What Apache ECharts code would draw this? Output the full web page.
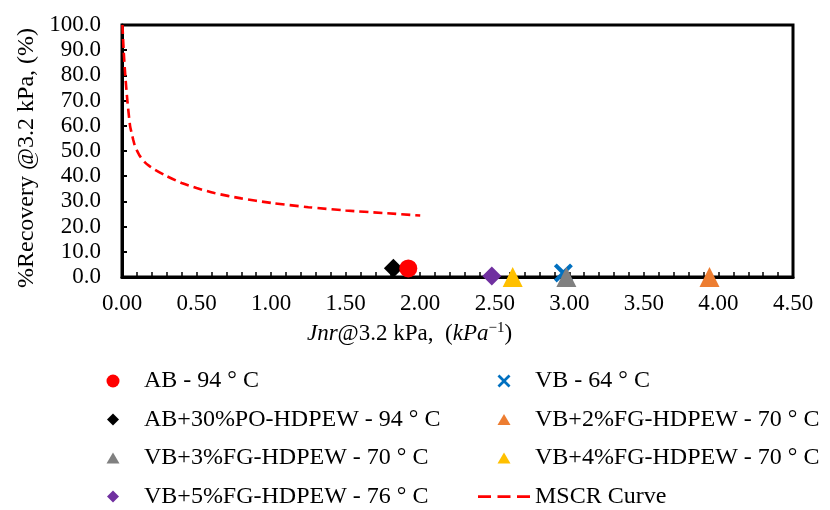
<!DOCTYPE html>
<html lang="en" style="height: 100%">
<head>
    <meta charset="utf-8">
    <title>MSCR</title>
    <script src="https://cdn.jsdelivr.net/npm/echarts@6.0.0/dist/echarts.min.js"></script>
    <style>
        body { margin: 0; background: #fff; }
    </style>
</head>
<body>
<div id="chart" style="width:830px; height:510px;"></div>

<script type="text/javascript">
    // 各试样的 Jnr / %Recovery 读数
    var sampleNames = [
        'AB - 94 ° C',
        'AB+30%PO-HDPEW - 94 ° C',
        'VB - 64 ° C',
        'VB+2%FG-HDPEW - 70 ° C',
        'VB+3%FG-HDPEW - 70 ° C',
        'VB+4%FG-HDPEW - 70 ° C',
        'VB+5%FG-HDPEW - 76 ° C'
    ];
    var jnrValues      = [1.92, 1.82, 2.96, 3.94, 2.98, 2.62, 2.48];
    var recoveryValues = [3.4, 3.5, 1.6, 0.0, 0.0, 0.0, 0.4];

    // MSCR 曲线
    var curveName = 'MSCR Curve';
    var curveJnr      = [0.003, 0.011, 0.022, 0.036, 0.054, 0.065, 0.075, 0.085, 0.098, 0.12, 0.154, 0.18, 0.22, 0.29, 0.4, 0.5, 0.62, 0.8, 1.0, 1.25, 1.5, 1.75, 2.0];
    var curveRecovery = [100.0, 90.0, 80.0, 70.0, 60.0, 57.0, 54.5, 52.3, 50.5, 48.0, 45.5, 44.2, 42.6, 40.3, 37.3, 35.3, 33.3, 31.2, 29.4, 27.7, 26.4, 25.4, 24.4];

    // 坐标轴刻度
    var xTicks = { min: 0, max: 4.5, interval: 0.5 };
    var yTicks = { min: 0, max: 100, interval: 10 };

    var crossPath = 'path://M0,3 L3,0 L10,7 L17,0 L20,3 L13,10 L20,17 L17,20 L10,13 L3,20 L0,17 L7,10 Z';
    // 图例图标, 都放在 52 x 13 的框里, 防止被拉伸
    var box = 'path://M0,0 L0,0 M52,13 L52,13 ';
    var legendIcons = {
        diamond: box + 'M26,0.5 L32,6.5 L26,12.5 L20,6.5 Z',
        triangle: box + 'M26,1 L32.5,12 L19.5,12 Z',
        dash: box + 'M0,5.3 L13,5.3 L13,7.9 L0,7.9 Z M19.5,5.3 L32.5,5.3 L32.5,7.9 L19.5,7.9 Z M39,5.3 L52,5.3 L52,7.9 L39,7.9 Z'
    };

    // 样式 (按 sampleNames 顺序)
    var markerStyle = [
        { symbol: 'circle',   size: 18, color: '#FF0000', icon: 'circle' },
        { symbol: 'diamond',  size: 19, color: '#000000', icon: legendIcons.diamond },
        { symbol: crossPath,  size: 19, color: '#0070C0', icon: crossPath },
        { symbol: 'triangle', size: 20, color: '#ED7D31', icon: legendIcons.triangle },
        { symbol: 'triangle', size: 20, color: '#808080', icon: legendIcons.triangle },
        { symbol: 'triangle', size: 20, color: '#FFC000', icon: legendIcons.triangle },
        { symbol: 'diamond',  size: 19, color: '#7030A0', icon: legendIcons.diamond }
    ];
    // 绘制顺序 (后画的在上面)
    var drawOrder = [1, 0, 6, 5, 2, 4, 3];

    var font = 'Liberation Serif';
    var myChart = echarts.init(document.getElementById('chart'));

    var series = drawOrder.map(function (i) {
        return {
            name: sampleNames[i],
            type: 'scatter',
            clip: false,
            symbol: markerStyle[i].symbol,
            symbolSize: markerStyle[i].size,
            itemStyle: { color: markerStyle[i].color, opacity: 1 },
            data: [[jnrValues[i], recoveryValues[i]]]
        };
    });
    series.push({
        name: curveName,
        type: 'line',
        smooth: 0.25,
        symbol: 'none',
        clip: false,
        z: 1,
        lineStyle: { color: '#FF0000', width: 2.6, type: [9, 5] },
        itemStyle: { color: '#FF0000' },
        data: curveJnr.map(function (x, k) { return [x, curveRecovery[k]]; })
    });

    function legendItem(i) {
        return { name: sampleNames[i], icon: markerStyle[i].icon };
    }

    var legendCommon = {
        orient: 'vertical',
        padding: 0,
        itemWidth: 52,
        itemHeight: 13,
        itemGap: 14.5,
        textStyle: { fontFamily: font, fontSize: 24, color: '#000', lineHeight: 24 }
    };

    myChart.setOption({
        animation: false,
        backgroundColor: '#fff',
        grid: {
            left: 122, right: 37, top: 25, bottom: 233,
            show: true, borderColor: '#000', borderWidth: 3
        },
        legend: [
            Object.assign({}, legendCommon, {
                left: 87, top: 369,
                data: [legendItem(0), legendItem(1), legendItem(4), legendItem(6)]
            }),
            Object.assign({}, legendCommon, {
                left: 478, top: 369,
                data: [legendItem(2), legendItem(3), legendItem(5),
                    { name: curveName, icon: legendIcons.dash, itemStyle: { color: '#FF0000' } }]
            })
        ],
        xAxis: {
            type: 'value',
            min: xTicks.min, max: xTicks.max, interval: xTicks.interval,
            name: '{i|Jnr}@3.2 kPa,  ({i|kPa}{sup|−1})',
            nameLocation: 'middle',
            nameGap: 44,
            nameTextStyle: {
                fontFamily: font, fontSize: 23, color: '#000', padding: [0, 96, 0, 0],
                rich: {
                    i: { fontFamily: font, fontSize: 23, fontStyle: 'italic', color: '#000' },
                    sup: { fontFamily: font, fontSize: 15, color: '#000', verticalAlign: 'top', padding: [0, 0, 10, 0] }
                }
            },
            axisLine: { onZero: false, lineStyle: { color: '#000', width: 3 } },
            axisTick: { show: true, inside: true, length: 5, lineStyle: { color: '#000', width: 1.5 } },
            minorTick: { show: true, splitNumber: 5, length: 5, lineStyle: { color: '#000', width: 1.5 } },
            splitLine: { show: false },
            axisLabel: {
                margin: 15, fontFamily: font, fontSize: 23, color: '#000',
                formatter: function (v) { return v.toFixed(2); }
            }
        },
        yAxis: {
            type: 'value',
            min: yTicks.min, max: yTicks.max, interval: yTicks.interval,
            name: '%Recovery @3.2 kPa, (%)',
            nameLocation: 'middle',
            nameGap: 80,
            nameTextStyle: { fontFamily: font, fontSize: 24, color: '#000', padding: [0, 14, 0, 0] },
            axisLine: { onZero: false, lineStyle: { color: '#000', width: 3 } },
            axisTick: { show: true, inside: true, length: 5, lineStyle: { color: '#000', width: 2 } },
            splitLine: { show: false },
            axisLabel: {
                margin: 21, fontFamily: font, fontSize: 23, color: '#000',
                formatter: function (v) { return v.toFixed(1); }
            }
        },
        series: series
    });
</script>

</body>
</html>
